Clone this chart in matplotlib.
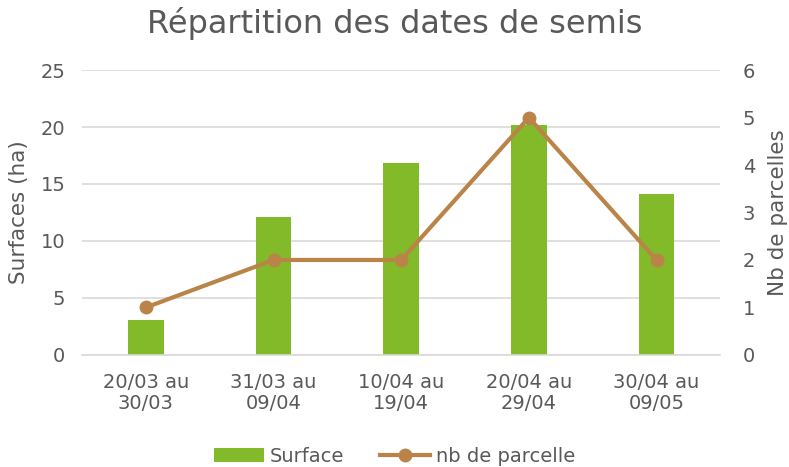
import numpy as np
import matplotlib.pyplot as plt

categories = ["20/03 au\n30/03", "31/03 au\n09/04", "10/04 au\n19/04", "20/04 au\n29/04", "30/04 au\n09/05"]
surface = [3.1, 12.1, 16.8, 20.2, 14.1]
nb_parcelle = [1, 2, 2, 5, 2]

grey = "#595959"
green = "#83BA29"
brown = "#BA8449"

plt.rcParams['font.family'] = ['DejaVu Sans']

fig, ax = plt.subplots(figsize=(7.89, 4.67), dpi=100)
fig.subplots_adjust(left=0.104, right=0.913, top=0.85, bottom=0.24)

x = np.arange(len(categories))
bars = ax.bar(x, surface, width=0.28, color=green, label="Surface", zorder=2)
ax.set_ylim(0, 25)
ax.set_yticks(range(0, 26, 5))
ax.set_xlim(-0.5, len(categories) - 0.5)
ax.set_xticks(x)
ax.set_xticklabels(categories, linespacing=1.15)
ax.set_ylabel("Surfaces (ha)", fontsize=15.5, color=grey, labelpad=8)
ax.grid(axis='y', color="#D9D9D9", linewidth=1.2, zorder=0)
ax.set_axisbelow(True)
for s in ["top", "right", "left"]:
    ax.spines[s].set_visible(False)
ax.spines["bottom"].set_color("#D9D9D9")
ax.spines["bottom"].set_linewidth(1.2)
ax.tick_params(axis='x', length=0, labelsize=14, labelcolor=grey, pad=13)
ax.tick_params(axis='y', length=0, labelsize=14, labelcolor=grey, pad=12)

ax2 = ax.twinx()
line, = ax2.plot(x, nb_parcelle, color=brown, linewidth=3, marker='o', markersize=9,
                 label="nb de parcelle", zorder=3)
ax2.set_ylim(0, 6)
ax2.set_yticks(range(0, 7))
ax2.set_ylabel("Nb de parcelles", fontsize=15.5, color=grey, labelpad=9)
for s in ["top", "right", "left", "bottom"]:
    ax2.spines[s].set_visible(False)
ax2.tick_params(axis='y', length=0, labelsize=14, labelcolor=grey, pad=16)

fig.suptitle("Répartition des dates de semis", fontsize=23, color=grey, y=0.985)

fig.legend([bars, line], ["Surface", "nb de parcelle"], loc="lower center",
           bbox_to_anchor=(0.5, -0.035), ncol=2, frameon=False, fontsize=14,
           labelcolor=grey, handlelength=2.6, columnspacing=1.8, handletextpad=0.3)

fig.savefig("out.png", dpi=100)
